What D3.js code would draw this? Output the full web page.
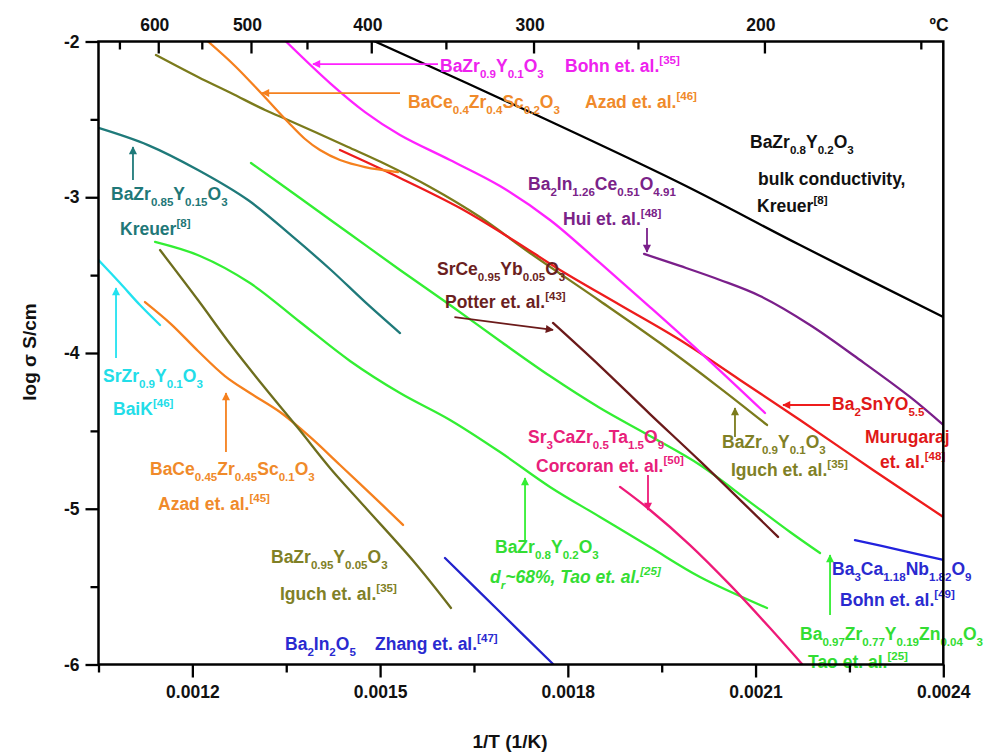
<!DOCTYPE html>
<html>
<head>
<meta charset="utf-8">
<script src="https://cdn.jsdelivr.net/npm/d3@7"></script>
<style>
  body { margin: 0; background: #fff; }
  svg { display: block; font-family: "Liberation Sans", Arial, sans-serif; font-weight: bold; }
</style>
</head>
<body>
<svg id="chart" width="986" height="754"></svg>
<script>
// ---- Conductivity data: 1/T (1/K) and log(sigma / S cm^-1) ----
const bzy20BulkX = [0.0014918, 0.0017395, 0.0019792, 0.0021710, 0.0024000];
const bzy20BulkY = [-2.000, -2.453, -2.909, -3.307, -3.769];

const bzy10BohnX = [0.0013496, 0.0014199, 0.0014759, 0.0015318, 0.0016117, 0.0016916, 0.0017715, 0.0018514, 0.0019313, 0.0020112, 0.0021151];
const bzy10BohnY = [-2.000, -2.267, -2.453, -2.600, -2.761, -2.928, -3.146, -3.422, -3.705, -3.994, -4.385];

const bczs02X = [0.0012250, 0.0012681, 0.0013097, 0.0013528, 0.0013800, 0.0014039, 0.0014359, 0.0014759, 0.0015286];
const bczs02Y = [-2.000, -2.157, -2.331, -2.517, -2.626, -2.697, -2.761, -2.806, -2.838];

const bzy10IguchX = [0.0011419, 0.0012090, 0.0012617, 0.0013161, 0.0013528, 0.0013960, 0.0014487, 0.0015015, 0.0015797, 0.0016596, 0.0017395, 0.0018514, 0.0019473, 0.0020432, 0.0021183];
const bzy10IguchY = [-2.087, -2.228, -2.331, -2.440, -2.504, -2.581, -2.677, -2.774, -2.934, -3.127, -3.358, -3.666, -3.936, -4.225, -4.462];

const ba2snyX = [0.0014359, 0.0015318, 0.0016277, 0.0017124, 0.0017875, 0.0018834, 0.0019793, 0.0020751, 0.0021710, 0.0022877, 0.0024000];
const ba2snyY = [-2.697, -2.876, -3.069, -3.274, -3.467, -3.692, -3.917, -4.173, -4.430, -4.751, -5.053];

const ba2inceX = [0.0019218, 0.0019793, 0.0020432, 0.0021071, 0.0021870, 0.0022669, 0.0023468, 0.0024000];
const ba2inceY = [-3.364, -3.441, -3.531, -3.634, -3.820, -4.045, -4.282, -4.462];

const bzy15X = [0.0010500, 0.0011291, 0.0012090, 0.0012889, 0.0013608, 0.0014215, 0.0014758, 0.0015318];
const bzy15Y = [-2.555, -2.665, -2.825, -3.018, -3.255, -3.467, -3.672, -3.872];

const bzyznX = [0.0012937, 0.0013720, 0.0014519, 0.0015318, 0.0016117, 0.0016916, 0.0017715, 0.0018514, 0.0019313, 0.0020112, 0.0020911, 0.0021551, 0.0022030];
const bzyznY = [-2.780, -3.005, -3.236, -3.467, -3.692, -3.923, -4.148, -4.353, -4.533, -4.719, -4.957, -5.149, -5.284];

const bzy20TaoX = [0.0011403, 0.0012122, 0.0012921, 0.0013720, 0.0014519, 0.0015318, 0.0016117, 0.0016916, 0.0017715, 0.0018514, 0.0019313, 0.0020112, 0.0021183];
const bzy20TaoY = [-3.287, -3.377, -3.551, -3.801, -4.051, -4.257, -4.430, -4.636, -4.860, -5.053, -5.246, -5.438, -5.637];

const szyX = [0.0010500, 0.0010844, 0.0011163, 0.0011483];
const szyY = [-3.403, -3.551, -3.692, -3.820];

const bczs01X = [0.0011243, 0.0011659, 0.0012090, 0.0012521, 0.0012921, 0.0013400, 0.0013880, 0.0014359, 0.0014870, 0.0015366];
const bczs01Y = [-3.673, -3.814, -3.987, -4.148, -4.257, -4.379, -4.539, -4.719, -4.912, -5.104];

const bzy05X = [0.0011483, 0.0012090, 0.0012617, 0.0013161, 0.0013688, 0.0014199, 0.0014758, 0.0015558, 0.0016133];
const bzy05Y = [-3.339, -3.660, -3.949, -4.225, -4.482, -4.738, -4.989, -5.348, -5.637];

const ba2in2o5X = [0.0016037, 0.0016916, 0.0017763];
const ba2in2o5Y = [-5.316, -5.663, -5.997];

const bcnX = [0.0022589, 0.0023308, 0.0024000];
const bcnY = [-5.201, -5.265, -5.329];

const scybX = [0.0017763, 0.0018514, 0.0019313, 0.0020112, 0.0021359];
const scybY = [-3.807, -4.084, -4.392, -4.694, -5.181];

const sczX = [0.0018834, 0.0019313, 0.0019952, 0.0020592, 0.0021231, 0.0021742];
const sczY = [-4.860, -5.008, -5.233, -5.489, -5.766, -5.997];

// ---- Axis ticks ----
const xMajorTicks = [0.0012, 0.0015, 0.0018, 0.0021, 0.0024];
const xMinorTicks = [0.00105, 0.00135, 0.00165, 0.00195, 0.00225];
const yMajorTicks = [-2, -3, -4, -5, -6];
const yMinorTicks = [-2.5, -3.5, -4.5, -5.5];
const celsiusMajor = [600, 500, 400, 300, 200];
const celsiusMinor = [650, 550, 450, 350, 250, 150];

// ---- Series table ----
const series = [
  { x: bzy20BulkX, y: bzy20BulkY, color: "#000000" },
  { x: ba2inceX,   y: ba2inceY,   color: "#7a1f8a" },
  { x: bzy15X,     y: bzy15Y,     color: "#1f7a7a" },
  { x: szyX,       y: szyY,       color: "#22e2f0" },
  { x: bczs01X,    y: bczs01Y,    color: "#f5801e" },
  { x: bzy05X,     y: bzy05Y,     color: "#6e6e1e" },
  { x: bzy20TaoX,  y: bzy20TaoY,  color: "#33ee33" },
  { x: bzyznX,     y: bzyznY,     color: "#33ee33" },
  { x: ba2in2o5X,  y: ba2in2o5Y,  color: "#2222cc" },
  { x: bcnX,       y: bcnY,       color: "#2222dd" },
  { x: scybX,      y: scybY,      color: "#6b1a1a" },
  { x: sczX,       y: sczY,       color: "#ee1a78" },
  { x: bzy10IguchX,y: bzy10IguchY,color: "#7b7b1c" },
  { x: ba2snyX,    y: ba2snyY,    color: "#ee1c1c" },
  { x: bczs02X,    y: bczs02Y,    color: "#f5801e" },
  { x: bzy10BohnX, y: bzy10BohnY, color: "#ff22ff" }
];

// ---- Annotation arrows (tail -> head, data units) ----
const arrows = [
  { x1: 0.0015925, y1: -2.145, x2: 0.0013928, y2: -2.145, color: "#ff22ff" },
  { x1: 0.0015318, y1: -2.331, x2: 0.0013113, y2: -2.331, color: "#f5801e" },
  { x1: 0.0019265, y1: -3.197, x2: 0.0019265, y2: -3.352, color: "#7a1f8a" },
  { x1: 0.0011051, y1: -2.889, x2: 0.0011051, y2: -2.677, color: "#1f7a7a" },
  { x1: 0.0010780, y1: -4.032, x2: 0.0010780, y2: -3.583, color: "#22e2f0" },
  { x1: 0.0012537, y1: -4.636, x2: 0.0012537, y2: -4.257, color: "#f5801e" },
  { x1: 0.0016188, y1: -3.769, x2: 0.0017763, y2: -3.852, color: "#6b1a1a" },
  { x1: 0.0019281, y1: -4.783, x2: 0.0019281, y2: -5.008, color: "#ee1a78" },
  { x1: 0.0017316, y1: -5.201, x2: 0.0017316, y2: -4.803, color: "#33ee33" },
  { x1: 0.0020671, y1: -4.539, x2: 0.0020671, y2: -4.353, color: "#7b7b1c" },
  { x1: 0.0022189, y1: -4.334, x2: 0.0021439, y2: -4.334, color: "#ee1c1c" },
  { x1: 0.0022190, y1: -5.682, x2: 0.0022190, y2: -5.297, color: "#33ee33" }
];

// ---- Text annotations: _{..} subscript, ^{..} superscript ----
const labels = [
  { t: "BaZr_{0.9}Y_{0.1}O_{3}", px: 440, py: 72, c: "#ee22ee" },
  { t: "Bohn et. al.^{[35]}", px: 565, py: 72, c: "#ee22ee" },
  { t: "BaCe_{0.4}Zr_{0.4}Sc_{0.2}O_{3}", px: 408, py: 108, c: "#f08a2a" },
  { t: "Azad et. al.^{[46]}", px: 585, py: 108, c: "#f08a2a" },
  { t: "BaZr_{0.8}Y_{0.2}O_{3}", px: 750, py: 148, c: "#111111" },
  { t: "bulk conductivity,", px: 758, py: 185, c: "#111111" },
  { t: "Kreuer^{[8]}", px: 757, py: 212, c: "#111111" },
  { t: "Ba_{2}In_{1.26}Ce_{0.51}O_{4.91}", px: 528, py: 190, c: "#7a2288" },
  { t: "Hui et. al.^{[48]}", px: 563, py: 225, c: "#7a2288" },
  { t: "BaZr_{0.85}Y_{0.15}O_{3}", px: 111, py: 200, c: "#1f7878" },
  { t: "Kreuer^{[8]}", px: 120, py: 235, c: "#1f7878" },
  { t: "SrZr_{0.9}Y_{0.1}O_{3}", px: 103, py: 382, c: "#22dde8" },
  { t: "BaiK^{[46]}", px: 113, py: 415, c: "#22dde8" },
  { t: "BaCe_{0.45}Zr_{0.45}Sc_{0.1}O_{3}", px: 150, py: 475, c: "#f08a2a" },
  { t: "Azad et. al.^{[45]}", px: 158, py: 510, c: "#f08a2a" },
  { t: "BaZr_{0.95}Y_{0.05}O_{3}", px: 271, py: 563, c: "#808026" },
  { t: "Iguch et. al.^{[35]}", px: 280, py: 600, c: "#808026" },
  { t: "Ba_{2}In_{2}O_{5}", px: 285, py: 650, c: "#2a2ad0" },
  { t: "Zhang et. al.^{[47]}", px: 375, py: 650, c: "#2a2ad0" },
  { t: "SrCe_{0.95}Yb_{0.05}O_{3}", px: 437, py: 275, c: "#6b1f1f" },
  { t: "Potter et. al.^{[43]}", px: 445, py: 308, c: "#6b1f1f" },
  { t: "Sr_{3}CaZr_{0.5}Ta_{1.5}O_{9}", px: 528, py: 443, c: "#e8207a" },
  { t: "Corcoran et. al.^{[50]}", px: 536, py: 472, c: "#e8207a" },
  { t: "BaZr_{0.8}Y_{0.2}O_{3}", px: 495, py: 553, c: "#33dd33" },
  { t: "d_{r}~68%, Tao et. al.^{[25]}", px: 490, py: 583, c: "#33dd33", italic: true },
  { t: "BaZr_{0.9}Y_{0.1}O_{3}", px: 722, py: 448, c: "#808026" },
  { t: "Iguch et. al.^{[35]}", px: 731, py: 476, c: "#808026" },
  { t: "Ba_{2}SnYO_{5.5}", px: 832, py: 410, c: "#e01818" },
  { t: "Murugaraj", px: 865, py: 443, c: "#e01818" },
  { t: "et. al.^{[48]}", px: 880, py: 468, c: "#e01818" },
  { t: "Ba_{3}Ca_{1.18}Nb_{1.82}O_{9}", px: 832, py: 575, c: "#2a2ad0" },
  { t: "Bohn et. al.^{[49]}", px: 840, py: 606, c: "#2a2ad0" },
  { t: "Ba_{0.97}Zr_{0.77}Y_{0.19}Zn_{0.04}O_{3}", px: 800, py: 640, c: "#33dd33" },
  { t: "Tao et. al.^{[25]}", px: 808, py: 668, c: "#33dd33" }
];

// ---- Drawing ----
const svg = d3.select("#chart");
const plotL = 98.5, plotR = 943.3, plotT = 41.5, plotB = 664.5;

const x = d3.scaleLinear().domain([0.00105, 0.0024]).range([plotL, plotR]);
const y = d3.scaleLinear().domain([-2, -6]).range([plotT, plotB]);
const celsiusToInvT = c => 1 / (c + 273);

const defs = svg.append("defs");
defs.append("clipPath").attr("id", "plotClip")
  .append("rect").attr("x", plotL).attr("y", plotT)
  .attr("width", plotR - plotL).attr("height", plotB - plotT);

// arrow heads, one per colour
const arrowColors = Array.from(new Set(arrows.map(a => a.color)));
arrowColors.forEach((c, i) => {
  defs.append("marker")
    .attr("id", "ah" + i)
    .attr("viewBox", "0 0 10 10")
    .attr("refX", 9).attr("refY", 5)
    .attr("markerUnits", "userSpaceOnUse")
    .attr("markerWidth", 10).attr("markerHeight", 8)
    .attr("orient", "auto")
    .append("path").attr("d", "M0,0 L10,5 L0,10 Z").attr("fill", c);
});

// curves
const line = d3.line()
  .x(d => x(d[0])).y(d => y(d[1]))
  .curve(d3.curveCatmullRom.alpha(0.5));

svg.append("g").attr("clip-path", "url(#plotClip)")
  .selectAll("path").data(series).join("path")
  .attr("d", s => line(s.x.map((v, i) => [v, s.y[i]])))
  .attr("fill", "none")
  .attr("stroke", s => s.color)
  .attr("stroke-width", 2.3)
  .attr("stroke-linejoin", "round")
  .attr("stroke-linecap", "round");

// arrows
svg.append("g").selectAll("line").data(arrows).join("line")
  .attr("x1", a => x(a.x1)).attr("y1", a => y(a.y1))
  .attr("x2", a => x(a.x2)).attr("y2", a => y(a.y2))
  .attr("stroke", a => a.color)
  .attr("stroke-width", 1.8)
  .attr("marker-end", a => "url(#ah" + arrowColors.indexOf(a.color) + ")");

// rich text helper
function rich(textSel, str, base) {
  const parts = str.split(/(_\{[^}]*\}|\^\{[^}]*\})/).filter(s => s.length);
  let shift = 0;
  parts.forEach(p => {
    let target = 0, txt = p, size = base;
    if (p.startsWith("_{")) { target = base * 0.36; txt = p.slice(2, -1); size = base * 0.66; }
    else if (p.startsWith("^{")) { target = -base * 0.45; txt = p.slice(2, -1); size = base * 0.66; }
    textSel.append("tspan").attr("dy", target - shift).attr("font-size", size).text(txt);
    shift = target;
  });
}

const labelSize = 17.5;
const lg = svg.append("g");
labels.forEach(l => {
  const t = lg.append("text")
    .attr("x", l.px).attr("y", l.py)
    .attr("fill", l.c)
    .attr("font-size", labelSize)
    .attr("font-style", l.italic ? "italic" : "normal");
  rich(t, l.t, labelSize);
});

// axes
const tickFont = 17.5;
const gBottom = svg.append("g").attr("transform", `translate(0,${plotB})`);
gBottom.call(d3.axisBottom(x).tickValues(xMajorTicks).tickSize(13).tickPadding(8)
  .tickFormat(d3.format(".4f")));
gBottom.append("g").call(d3.axisBottom(x).tickValues(xMinorTicks).tickSize(8).tickFormat(""));

const gLeft = svg.append("g").attr("transform", `translate(${plotL},0)`);
gLeft.call(d3.axisLeft(y).tickValues(yMajorTicks).tickSize(13).tickPadding(6)
  .tickFormat(d => String(d)));
gLeft.append("g").call(d3.axisLeft(y).tickValues(yMinorTicks).tickSize(8).tickFormat(""));

const gTop = svg.append("g").attr("transform", `translate(0,${plotT})`);
gTop.call(d3.axisTop(x).tickValues(celsiusMajor.map(celsiusToInvT)).tickSize(-12).tickPadding(11)
  .tickFormat((d, i) => String(celsiusMajor[i])));
gTop.selectAll(".tick text").attr("dx", -4);
gTop.append("g").call(d3.axisTop(x).tickValues(celsiusMinor.map(celsiusToInvT)).tickSize(-8).tickFormat(""));

svg.selectAll(".domain").remove();
svg.selectAll(".tick line").attr("stroke", "#000").attr("stroke-width", 2.3);
svg.selectAll(".tick text").attr("font-size", tickFont).attr("font-weight", "bold")
  .attr("font-family", '"Liberation Sans", Arial, sans-serif').attr("fill", "#111");

// frame
svg.append("rect")
  .attr("x", plotL).attr("y", plotT)
  .attr("width", plotR - plotL).attr("height", plotB - plotT)
  .attr("fill", "none").attr("stroke", "#000").attr("stroke-width", 2.5);

// axis titles
svg.append("text").attr("x", 939).attr("y", 31).attr("text-anchor", "middle")
  .attr("font-size", 17.5).attr("fill", "#111").text("ºC");

svg.append("text").attr("x", 510).attr("y", 748).attr("text-anchor", "middle")
  .attr("font-size", 19).attr("fill", "#111").text("1/T (1/K)");

svg.append("text")
  .attr("transform", "translate(36,352) rotate(-90)")
  .attr("text-anchor", "middle")
  .attr("font-size", 19).attr("fill", "#111").text("log σ S/cm");
</script>
</body>
</html>
